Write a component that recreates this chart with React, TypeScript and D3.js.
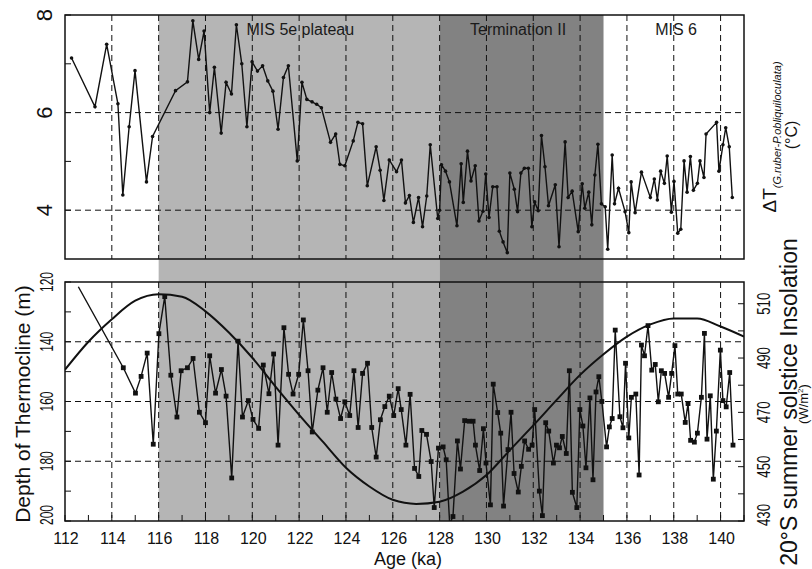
import React from "react";
import * as d3 from "d3";

// ---------- data ----------
const topAge = [112.28,113.28,113.78,114.26,114.47,114.74,114.99,115.48,115.74,116.72,117.23,117.46,117.71,117.94,118.18,118.38,118.67,118.88,119.11,119.32,119.55,119.77,119.99,120.22,120.44,120.66,120.88,121.1,121.33,121.54,121.92,122.12,122.33,122.55,122.75,122.95,123.34,123.56,123.74,123.95,124.31,124.51,124.71,124.91,125.29,125.46,125.62,125.85,126.16,126.37,126.54,126.71,126.88,127.1,127.27,127.45,127.6,127.92,128.0,128.08,128.25,128.42,128.74,128.92,129.01,129.19,129.34,129.52,129.68,129.85,129.97,130.11,130.27,130.45,130.55,130.71,130.89,131.0,131.19,131.33,131.47,131.62,131.79,131.94,132.06,132.21,132.35,132.5,132.65,132.94,133.1,133.36,133.49,133.66,133.92,134.09,134.2,134.37,134.5,134.63,134.76,134.91,135.07,135.18,135.37,135.47,135.64,135.92,136.08,136.18,136.35,136.62,137.0,137.17,137.3,137.44,137.6,137.72,137.9,138.01,138.17,138.3,138.44,138.57,138.71,138.84,139.01,139.12,139.29,139.38,139.83,139.93,140.1,140.22,140.37,140.5];
const topDT = [7.12,6.12,7.4,6.18,4.31,5.71,6.86,4.58,5.51,6.45,6.63,7.88,7.09,7.67,6.0,6.93,5.58,6.62,6.38,7.8,7.0,5.71,7.04,6.85,6.96,6.65,6.44,5.66,6.72,6.96,5.01,6.62,6.27,6.22,6.17,6.1,5.39,5.56,4.94,4.91,5.42,5.8,5.77,4.5,5.3,4.82,4.2,5.03,4.79,5.03,4.15,4.3,3.75,4.26,3.66,4.29,5.34,3.83,4.0,4.93,4.8,4.58,3.68,4.95,4.16,5.21,4.6,4.91,3.78,3.98,4.74,3.85,4.48,4.48,3.57,3.35,3.13,4.76,4.43,3.97,4.76,4.86,4.86,3.66,4.17,3.99,5.53,4.89,4.09,4.52,3.25,5.4,4.26,4.39,3.56,4.54,4.04,4.37,3.7,4.72,5.35,4.13,4.07,3.2,5.13,4.13,4.45,3.97,3.54,4.58,3.95,4.78,4.26,4.64,4.21,4.8,4.55,5.11,3.96,4.59,3.53,3.61,5.01,4.37,5.1,4.41,4.55,5.01,4.67,5.56,5.8,4.8,5.34,5.69,5.3,4.26];

const depthAge = [112.57,114.49,115.01,115.25,115.51,115.77,116.01,116.26,116.52,116.78,116.96,117.23,117.47,117.74,118.0,118.18,118.43,118.68,118.88,119.12,119.39,119.58,119.83,120.03,120.27,120.47,120.71,120.91,121.1,121.35,121.55,121.74,121.98,122.18,122.38,122.56,122.8,123.02,123.2,123.39,123.57,123.77,123.95,124.16,124.34,124.52,124.71,124.92,125.1,125.29,125.47,125.66,125.85,126.04,126.23,126.36,126.56,126.74,126.93,127.11,127.24,127.44,127.64,127.77,127.95,128.15,128.28,128.43,128.57,128.76,128.89,129.07,129.26,129.43,129.53,129.71,129.87,129.98,130.17,130.29,130.48,130.61,130.73,130.92,131.05,131.18,131.36,131.49,131.63,131.8,131.95,132.06,132.26,132.39,132.53,132.66,132.86,132.99,133.12,133.24,133.41,133.54,133.67,133.86,133.99,134.12,134.25,134.42,134.55,134.68,134.8,134.93,135.13,135.25,135.37,135.5,135.7,135.83,135.94,136.08,136.19,136.38,136.52,136.62,136.75,136.9,137.06,137.21,137.34,137.47,137.61,137.78,137.91,138.05,138.17,138.32,138.49,138.61,138.72,138.88,139.01,139.18,139.31,139.42,139.56,139.69,139.82,139.99,140.1,140.24,140.39,140.53];
const depthVal = [121.6,148.7,157.2,151.6,143.8,174.3,137.3,124.9,151.2,165.2,149.7,148.7,145.6,163.6,167.1,144.7,157.2,149.3,158.2,185.6,139.8,165.2,159.7,166.0,169.0,147.8,157.4,144.1,174.6,135.3,150.9,157.5,150.9,132.7,149.7,170.2,156.2,148.7,163.6,150.3,159.2,165.7,160.1,164.7,149.7,168.7,150.6,147.2,168.7,178.6,166.1,161.7,158.2,164.7,155.7,162.7,174.6,157.6,182.4,185.1,169.7,171.0,180.1,195.5,175.6,175.2,179.5,201.0,198.5,173.2,182.6,166.4,166.6,166.6,174.6,183.1,169.1,180.6,194.6,154.2,163.7,170.6,195.0,176.1,163.6,184.1,190.3,181.7,173.2,176.0,174.6,162.7,190.0,198.2,167.1,169.9,180.6,174.6,175.5,171.7,177.4,149.7,190.4,195.5,162.7,168.2,182.2,158.8,186.2,156.8,151.7,160.0,175.2,168.5,165.7,136.1,165.1,168.8,147.2,172.2,158.6,157.5,184.6,141.1,144.7,134.6,149.5,147.6,160.1,149.7,150.6,158.6,150.6,141.3,157.5,157.5,167.0,160.7,173.0,173.6,170.6,158.6,137.2,172.6,158.1,186.0,169.9,142.8,159.7,161.8,150.3,174.6];

const insAge = [112,113,114,115,116,117,118,119,120,121,122,123,124,125,126,127,128,129,130,131,132,133,134,135,136,137,138,139,140,141];
const insVal = [485.7,496.0,504.3,511.1,513.5,512.6,507.2,499.4,490.1,479.4,469.1,459.3,449.6,442.7,437.8,436.3,437.1,440.8,446.9,456.1,465.2,474.6,483.8,491.4,497.9,502.4,504.6,504.6,501.6,497.9];

const xTickLabels = [112,114,116,118,120,122,124,126,128,130,132,134,136,138,140];
const xMinorTicks = [113,115,117,119,121,123,125,127,129,131,133,135,137,139,141];
const gridAges = [114,116,118,120,122,124,126,128,130,132,134,136,138,140];
const topTicks = [4,6,8];
const topMinor = [5,7];
const topGrid = [4,6];
const depthTicks = [120,140,160,180,200];
const depthMinor = [130,150,170,190];
const depthGrid = [140,160,180];
const insTicks = [430,450,470,490,510];
const insMinor = [440,460,480,500];

const bandStart = [116,128];
const bandEnd = [128,135];
const bandColor = ["#b5b5b5","#828282"];
const periodLabels = ["MIS 5e plateau","Termination II","MIS 6"];
const periodAge = [122.05,131.35,138.1];

// ---------- layout ----------
const W = 812, H = 569;
const L = 65, R = 744;
const topT = 15, topB = 259;
const botT = 282, botB = 521;

export default function App() {
  const x = d3.scaleLinear().domain([112,141]).range([L,R]);
  const yTop = d3.scaleLinear().domain([3,8]).range([topB,topT]);
  const yDep = d3.scaleLinear().domain([120,200]).range([botT,botB]);
  const yIns = d3.scaleLinear().domain([430,518]).range([botB,botT]);

  const topLine = d3.line<number>().x((_, i) => x(topAge[i])).y(d => yTop(d))(topDT) || "";
  const depLine = d3.line<number>().x((_, i) => x(depthAge[i])).y(d => yDep(d))(depthVal) || "";
  const insLine = d3.line<number>().x((_, i) => x(insAge[i])).y(d => yIns(d)).curve(d3.curveMonotoneX)(insVal) || "";

  const font = "'Liberation Sans', Arial, Helvetica, sans-serif";
  const dash = "6,4";

  return (
    <svg width={W} height={H} style={{position:"absolute",left:0,top:0,background:"#fff"}} fontFamily={font}>
      <defs>
        <clipPath id="clipTop"><rect x={L} y={topT} width={R-L} height={topB-topT} /></clipPath>
        <clipPath id="clipBot"><rect x={L} y={botT} width={R-L} height={botB-botT} /></clipPath>
      </defs>
      {/* bands */}
      {bandStart.map((s, i) => (
        <rect key={"b"+i} x={x(s)} y={topT} width={x(bandEnd[i]) - x(s)} height={botB-topT} fill={bandColor[i]} />
      ))}
      {/* grids top */}
      {gridAges.map(a => (
        <line key={"gt"+a} x1={x(a)} x2={x(a)} y1={topT} y2={topB} stroke="#111" strokeWidth={1} strokeDasharray={dash} />
      ))}
      {topGrid.map(v => (
        <line key={"gty"+v} x1={L} x2={R} y1={yTop(v)} y2={yTop(v)} stroke="#111" strokeWidth={1} strokeDasharray={dash} />
      ))}
      {/* grids bottom */}
      {gridAges.map(a => (
        <line key={"gb"+a} x1={x(a)} x2={x(a)} y1={botT} y2={botB} stroke="#111" strokeWidth={1} strokeDasharray={dash} />
      ))}
      {depthGrid.map(v => (
        <line key={"gby"+v} x1={L} x2={R} y1={yDep(v)} y2={yDep(v)} stroke="#111" strokeWidth={1} strokeDasharray={dash} />
      ))}

      {/* top series */}
      <g clipPath="url(#clipTop)">
        <path d={topLine} fill="none" stroke="#111" strokeWidth={1.4} />
        {topDT.map((v, i) => (
          <circle key={"tp"+i} cx={x(topAge[i])} cy={yTop(v)} r={1.8} fill="#111" />
        ))}
      </g>

      {/* bottom series */}
      <g clipPath="url(#clipBot)">
        <path d={insLine} fill="none" stroke="#111" strokeWidth={2} />
        <path d={depLine} fill="none" stroke="#111" strokeWidth={1.4} />
        {depthVal.map((v, i) => i === 0 ? null : (
          <rect key={"dp"+i} x={x(depthAge[i]) - 2.4} y={yDep(v) - 2.4} width={4.8} height={4.8} fill="#111" />
        ))}
      </g>

      {/* frames */}
      <rect x={L} y={topT} width={R-L} height={topB-topT} fill="none" stroke="#111" strokeWidth={1.5} />
      <rect x={L} y={botT} width={R-L} height={botB-botT} fill="none" stroke="#111" strokeWidth={1.5} />

      {/* top y ticks */}
      {topMinor.concat(topTicks).map(v => (
        <line key={"tt"+v} x1={L} x2={L+6} y1={yTop(v)} y2={yTop(v)} stroke="#111" strokeWidth={1} />
      ))}
      {topTicks.map(v => (
        <text key={"tl"+v} transform={`translate(52,${yTop(v)}) rotate(-90)`} textAnchor="middle" fontSize={22} fill="#111">{v}</text>
      ))}

      {/* bottom x ticks */}
      {xTickLabels.concat(xMinorTicks).map(a => (
        <line key={"xt"+a} x1={x(a)} x2={x(a)} y1={botB} y2={botB-6} stroke="#111" strokeWidth={1} />
      ))}
      {xTickLabels.map(a => (
        <text key={"xl"+a} x={x(a)+1} y={544} textAnchor="middle" fontSize={16} fill="#111">{a}</text>
      ))}
      <text x={408} y={564.5} textAnchor="middle" fontSize={18} fill="#111">Age (ka)</text>

      {/* left depth axis */}
      {depthTicks.concat(depthMinor).map(v => (
        <line key={"dt"+v} x1={L} x2={L+6} y1={yDep(v)} y2={yDep(v)} stroke="#111" strokeWidth={1} />
      ))}
      {depthTicks.map(v => (
        <text key={"dl"+v} transform={`translate(53,${Math.min(yDep(v), 515)}) rotate(-90)`} textAnchor="middle" fontSize={18} fill="#111" textLength={20} lengthAdjust="spacingAndGlyphs">{v}</text>
      ))}
      <text transform={`translate(30,404) rotate(-90)`} textAnchor="middle" fontSize={21} fill="#111">Depth of Thermocline (m)</text>

      {/* right insolation axis */}
      {insTicks.concat(insMinor).map(v => (
        <line key={"it"+v} x1={R} x2={R-6} y1={yIns(v)} y2={yIns(v)} stroke="#111" strokeWidth={1} />
      ))}
      {insTicks.map(v => (
        <text key={"il"+v} transform={`translate(770,${Math.min(yIns(v), 515)}) rotate(-90)`} textAnchor="middle" fontSize={19} fill="#111" textLength={22} lengthAdjust="spacingAndGlyphs">{v}</text>
      ))}
      <text transform={`translate(797,402) rotate(-90)`} textAnchor="middle" fontSize={23} fill="#111">20°S summer solstice Insolation</text>
      <text transform={`translate(808,404) rotate(-90)`} textAnchor="middle" fontSize={13} fill="#111">(W/m<tspan dy={-5} fontSize={8}>2</tspan><tspan dy={5}>)</tspan></text>

      {/* top right label */}
      <text transform={`translate(776,137) rotate(-90)`} textAnchor="middle" fill="#111">
        <tspan fontSize={19}>ΔT</tspan>
        <tspan fontSize={11} fontStyle="italic" dy={5}>(G.ruber-P.obliquiloculata)</tspan>
      </text>
      <text transform={`translate(797,135) rotate(-90)`} textAnchor="middle" fontSize={16} fill="#111">(°C)</text>

      {/* period labels */}
      {periodLabels.map((t, i) => (
        <text key={"pl"+i} x={x(periodAge[i])} y={35} textAnchor="middle" fontSize={16} fill="#1a1a1a">{t}</text>
      ))}
    </svg>
  );
}
